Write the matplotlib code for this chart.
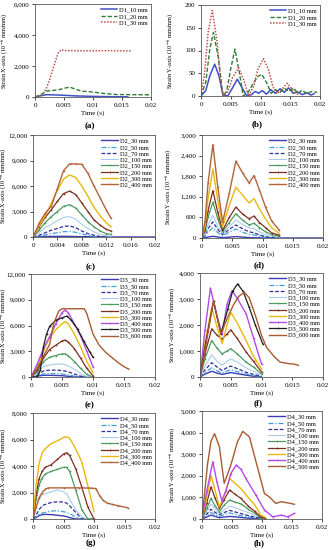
#!/usr/bin/env python3
"""Eight strain-vs-time panels (X and Y axis strain for D1..D4)."""

import matplotlib
matplotlib.use("Agg")
import matplotlib.pyplot as plt
from matplotlib.ticker import FuncFormatter, MultipleLocator

plt.rcParams["font.family"] = ["Liberation Serif", "DejaVu Serif"]
plt.rcParams["mathtext.fontset"] = "stix"

# ---------------- (a) D1 strain X ----------------
A_T10 = [0, 0.001, 0.002, 0.003, 0.005, 0.007, 0.01, 0.013, 0.016]
A_10 = [0, 80, 150, 140, 110, 70, 40, 20, 10]
A_T20 = [0, 0.001, 0.002, 0.003, 0.004, 0.005, 0.006, 0.007, 0.008, 0.01, 0.012, 0.014, 0.02]
A_20 = [0, 150, 380, 420, 460, 560, 640, 500, 380, 320, 220, 160, 140]
A_T30 = [0, 0.0005, 0.001, 0.0015, 0.002, 0.0025, 0.003, 0.0035, 0.004, 0.0045, 0.005, 0.008, 0.012, 0.0165]
A_30 = [0, 0, 80, 250, 600, 1100, 1700, 2300, 2850, 3050, 3000, 2980, 2990, 2980]

# ---------------- (b) D1 strain Y ----------------
B_T10 = [0, 0.0008, 0.0015, 0.0023, 0.003, 0.0037, 0.0045, 0.0053, 0.0061, 0.0069, 0.0077, 0.0085,
         0.0091, 0.0097, 0.0103, 0.011, 0.0117, 0.0125, 0.0133, 0.014, 0.0147, 0.0155, 0.0162, 0.017,
         0.0178, 0.0185, 0.019]
B_10 = [0, 12, 45, 70, 45, 2, 0, 18, 37, 18, 0, 3, 10, 6, 12, 4, 14, 6, 16, 8, 18, 6, 9, 3, 7, 2, 5]
B_T20 = [0, 0.0008, 0.0015, 0.0021, 0.0029, 0.0037, 0.0043, 0.005, 0.0057, 0.0064, 0.0071, 0.0079,
         0.0088, 0.0095, 0.0102, 0.011, 0.0118, 0.0125, 0.0133, 0.014, 0.0148, 0.0155, 0.0163, 0.017,
         0.0178, 0.0186, 0.0195]
B_20 = [0, 30, 105, 140, 85, 0, 10, 60, 103, 55, 0, 8, 28, 42, 48, 30, 6, 14, 8, 17, 10, 18, 6, 13, 5, 10, 8]
B_T30 = [0, 0.0006, 0.0012, 0.0019, 0.0027, 0.0034, 0.0038, 0.0045, 0.0053, 0.0063, 0.0072, 0.008,
         0.0088, 0.0096, 0.0105, 0.0113, 0.0121, 0.0128, 0.0136, 0.0145, 0.0153, 0.016, 0.0165]
B_30 = [0, 50, 140, 188, 120, 20, 0, 10, 40, 62, 35, 0, 20, 60, 82, 60, 20, 5, 15, 28, 15, 5, 3]

# ---------------- (c) D2 strain X ----------------
C_T = [0, 0.001, 0.002, 0.003, 0.004, 0.005, 0.006, 0.007, 0.008, 0.009, 0.01, 0.011, 0.012, 0.0128]
C_T30 = [0, 0.002, 0.005, 0.008, 0.012, 0.02]
C_30 = [0, 60, 80, 40, 10, 0]
C_50 = [0, 100, 250, 400, 500, 620, 650, 550, 350, 200, 80, 0, 0, 0]
C_70 = [0, 200, 500, 800, 1000, 1250, 1300, 1100, 700, 400, 200, 50, 0, 0]
C_100 = [0, 500, 1100, 1500, 1900, 2300, 2400, 2100, 1500, 1000, 600, 300, 150, 100]
C_150 = [0, 800, 1700, 2400, 3000, 3600, 3800, 3400, 2600, 1800, 1200, 700, 400, 300]
C_200 = [0, 1200, 2300, 3200, 4200, 5100, 5400, 5000, 4000, 3000, 2000, 1400, 900, 700]
C_300 = [0, 1300, 2500, 4000, 5500, 6800, 7300, 7000, 6000, 4800, 3500, 2500, 1700, 1200]
C_400 = [0, 1600, 2800, 3600, 5700, 7800, 8600, 8600, 8550, 7500, 6000, 4600, 3200, 2200]

# ---------------- (d) D2 strain Y ----------------
D_T = [0, 0.0005, 0.001, 0.0018, 0.0026, 0.0034, 0.0045, 0.0056, 0.0067, 0.0078, 0.0086, 0.0095,
       0.0105, 0.0115, 0.0128]
D_T30 = [0, 0.0018, 0.0034, 0.0056, 0.008, 0.011, 0.02]
D_30 = [0, 50, 10, 40, 10, 0, 0]
D_50 = [0, 60, 170, 300, 160, 60, 170, 260, 170, 100, 90, 50, 20, 0, 0]
D_70 = [0, 90, 270, 470, 250, 100, 250, 380, 270, 180, 150, 90, 40, 10, 0]
D_100 = [0, 120, 380, 660, 350, 130, 330, 520, 400, 290, 280, 180, 100, 50, 30]
D_150 = [0, 200, 600, 1050, 560, 180, 450, 710, 520, 380, 430, 300, 180, 100, 50]
D_200 = [0, 250, 800, 1380, 750, 220, 600, 900, 700, 560, 640, 450, 300, 150, 80]
D_300 = [0, 350, 1150, 2010, 1100, 330, 950, 1480, 1250, 1020, 1150, 850, 550, 300, 130]
D_400 = [0, 500, 1600, 2720, 1500, 460, 1300, 2240, 1900, 1600, 1820, 1400, 900, 500, 220]

# ---------------- (e) D3 strain X ----------------
E_T = [0, 0.001, 0.002, 0.003, 0.004, 0.005, 0.0055, 0.006, 0.007, 0.008, 0.009, 0.01]
E_30 = [0, 100, 200, 200, 180, 150, 120, 80, 20, 0, 0, 0]
E_50 = [0, 100, 350, 400, 400, 350, 300, 250, 100, 0, 0, 0]
E_70 = [0, 200, 700, 800, 800, 750, 700, 600, 350, 100, 0, 0]
E_100 = [0, 400, 1200, 1400, 1500, 1500, 1450, 1300, 900, 400, 50, 0]
E_150 = [0, 600, 1800, 2300, 2500, 2700, 2700, 2500, 1800, 1000, 300, 0]
E_200 = [0, 800, 2200, 3200, 3700, 4200, 4300, 4100, 3300, 2200, 1000, 150]
E_300 = [0, 1200, 3000, 4600, 5500, 6200, 6450, 6200, 5000, 3500, 1800, 500]
E_400 = [0, 1500, 3300, 4700, 6200, 7500, 7800, 7500, 6200, 4800, 3000, 1200]
E_T500 = [0, 0.001, 0.0015, 0.002, 0.0025, 0.003, 0.004, 0.005, 0.0058, 0.0065, 0.0075, 0.0085, 0.0095, 0.01]
E_500 = [0, 0, 800, 3500, 5000, 5900, 6600, 6900, 7100, 6600, 5600, 4200, 2900, 2300]
E_T600 = [0, 0.001, 0.002, 0.003, 0.0037, 0.0045, 0.005, 0.0086, 0.009, 0.0095, 0.01, 0.011, 0.012,
          0.013, 0.014, 0.015, 0.0158]
E_600 = [0, 1000, 2400, 3800, 6300, 7700, 7950, 7950, 7400, 6200, 5000, 3700, 2900, 2300, 1700, 1200, 900]

# ---------------- (f) D3 strain Y ----------------
F_T = [0, 0.0008, 0.0019, 0.0028, 0.0036, 0.0044, 0.005, 0.006, 0.0075, 0.0087, 0.01]
F_30 = [0, 110, 220, 150, 100, 140, 170, 130, 70, 30, 0]
F_50 = [0, 170, 350, 240, 150, 230, 280, 210, 110, 60, 10]
F_70 = [0, 270, 550, 380, 250, 360, 420, 330, 180, 100, 30]
F_100 = [0, 420, 850, 600, 450, 600, 700, 580, 350, 220, 70]
F_150 = [0, 700, 1400, 1100, 890, 1000, 1090, 900, 570, 380, 120]
F_200 = [0, 900, 1850, 1600, 1470, 1650, 1810, 1500, 960, 600, 200]
F_300 = [0, 1300, 2680, 1900, 1280, 2000, 2490, 2100, 1400, 800, 300]
F_T400 = [0, 0.0008, 0.0017, 0.0028, 0.0036, 0.0044, 0.0052, 0.006, 0.0075, 0.0087, 0.01]
F_400 = [0, 1800, 3420, 2300, 1660, 2800, 3320, 3050, 2430, 1500, 500]
F_T500 = [0, 0.001, 0.0022, 0.0034, 0.0045, 0.0053, 0.0061, 0.007, 0.008, 0.009, 0.0102]
F_500 = [0, 1400, 2910, 1660, 2600, 3300, 3580, 3300, 2680, 2000, 1280]
F_T600 = [0, 0.001, 0.0022, 0.0034, 0.0045, 0.0055, 0.0063, 0.0072, 0.008, 0.0091, 0.01, 0.0108,
          0.012, 0.013, 0.0145, 0.0152, 0.016]
F_600 = [0, 1300, 2940, 1650, 2300, 2800, 3100, 3260, 3050, 2300, 1600, 1150, 800, 575, 510, 500, 450]

# ---------------- (g) D4 strain X ----------------
G_T = [0, 0.0005, 0.001, 0.0015, 0.002, 0.003, 0.004, 0.005, 0.0055, 0.006, 0.007, 0.008, 0.009, 0.01]
G_30 = [0, 100, 250, 330, 350, 330, 280, 230, 180, 100, 0, 0, 0, 0]
G_50 = [0, 150, 350, 450, 500, 600, 620, 550, 500, 400, 150, 0, 0, 0]
G_70 = [0, 300, 700, 1000, 1100, 1250, 1300, 1280, 1200, 1000, 500, 0, 0, 0]
G_100 = [0, 800, 1500, 1800, 1900, 2050, 2200, 2050, 1900, 1500, 700, 150, 0, 0]
G_150 = [0, 1500, 2550, 3100, 3400, 3600, 3750, 3900, 3900, 3600, 2200, 700, 0, 0]
G_200 = [0, 1800, 3050, 3600, 3900, 4100, 4500, 4900, 5000, 4800, 3800, 2400, 900, 0]
G_300 = [0, 2500, 4200, 5000, 5300, 5700, 5900, 6150, 6200, 6100, 5300, 4300, 2500, 550]
G_T400 = [0, 0.0005, 0.001, 0.0015, 0.002, 0.0025, 0.005, 0.0075, 0.0095, 0.0103, 0.011, 0.0115,
          0.0122, 0.013, 0.014, 0.0155]
G_400 = [0, 900, 1600, 2000, 2250, 2350, 2350, 2350, 2330, 2300, 1700, 1400, 1200, 1100, 1000, 850]

# ---------------- (h) D4 strain Y ----------------
H_T = [0, 0.0008, 0.0015, 0.0022, 0.0029, 0.0037, 0.0046, 0.0055, 0.0065, 0.0077, 0.0088, 0.0098, 0.0105]
H_30 = [0, 90, 180, 120, 60, 90, 120, 100, 70, 40, 20, 0, 0]
H_50 = [0, 150, 300, 200, 120, 200, 280, 220, 150, 100, 50, 10, 0]
H_70 = [0, 230, 450, 300, 200, 300, 400, 330, 250, 160, 90, 40, 20]
H_100 = [0, 350, 700, 450, 250, 420, 600, 520, 420, 300, 180, 100, 60]
H_150 = [0, 500, 950, 600, 340, 650, 880, 780, 700, 450, 270, 50, 0]
H_200 = [0, 750, 1490, 950, 490, 900, 1340, 1150, 950, 600, 350, 100, 50]
H_300 = [0, 1000, 2030, 1300, 570, 1100, 1880, 1650, 1400, 1000, 650, 180, 80]
H_T400 = [0, 0.0008, 0.0018, 0.0025, 0.0033, 0.004, 0.0048, 0.0057, 0.0065, 0.0073, 0.009, 0.0104,
          0.0118, 0.0132, 0.0143, 0.0154]
H_400 = [0, 1300, 2650, 1700, 850, 1300, 2100, 2500, 2300, 1880, 1100, 420, 100, 180, 100, 260]
H_T500 = [0, 0.0009, 0.0015, 0.0021, 0.0029, 0.0037, 0.0048, 0.0059, 0.0068, 0.0079, 0.0093, 0.0104,
          0.0112, 0.0123, 0.0132, 0.0148, 0.0154]
H_500 = [0, 2490, 3600, 3950, 3340, 1650, 2490, 3570, 4060, 3800, 2340, 1180, 1030, 720, 800, 720, 680]

STYLE = {
    "D1_10": dict(color="#4050c8", ls="-", lw=1.1),
    "D1_20": dict(color="#2e7d32", ls=(0, (3, 1.5)), lw=1.0),
    "D1_30": dict(color="#c0504d", ls=(0, (1, 1)), lw=1.1),
    "30": dict(color="#3c3cb4", ls="-", lw=1.0),
    "50": dict(color="#3f9fdc", ls=(0, (4, 1.5, 1, 1.5)), lw=0.9),
    "70": dict(color="#2f2f99", ls=(0, (3, 1.5)), lw=0.9),
    "100": dict(color="#a8cbeb", ls="-", lw=0.8),
    "150": dict(color="#4f9a60", ls="-", lw=0.9, marker="+", ms=2, mew=0.5),
    "200": dict(color="#7d2f1f", ls="-", lw=0.9, marker="+", ms=2, mew=0.5),
    "300": dict(color="#e8b90c", ls="-", lw=1.0),
    "400": dict(color="#b2643c", ls="-", lw=1.0, marker="+", ms=2, mew=0.5),
    "400v": dict(color="#b44be6", ls="-", lw=1.0, marker="+", ms=2, mew=0.5),
    "500": dict(color="#1e1e1e", ls="-", lw=0.9, marker="+", ms=2, mew=0.5),
    "500b": dict(color="#a85a30", ls="-", lw=1.0),
    "600": dict(color="#a85a30", ls="-", lw=1.0),
}

W, H = 332, 550
fig = plt.figure(figsize=(W / 100, H / 100), dpi=100)


def make_axes(left, top, right, bottom):
    return fig.add_axes([left / W, 1 - bottom / H, (right - left) / W, (bottom - top) / H])


def style_axes(ax, ymax, ystep, xstep, axis_name, ylab_px, tag, tag_y):
    ax.set_xlim(0, 0.02)
    ax.set_ylim(0, ymax)
    ax.xaxis.set_major_locator(MultipleLocator(xstep))
    ax.yaxis.set_major_locator(MultipleLocator(ystep))
    ax.xaxis.set_major_formatter(FuncFormatter(lambda v, p: f"{v:g}"))
    ax.yaxis.set_major_formatter(FuncFormatter(lambda v, p: f"{v:,.0f}"))
    ax.tick_params(labelsize=5, length=2, width=0.5, pad=2, direction="out")
    for sp in ax.spines.values():
        sp.set_color("#5a5a5a")
        sp.set_linewidth(0.6)
    ax.set_xlabel("Time (s)", fontsize=5, labelpad=2)
    ax.set_ylabel(f"Strain {axis_name}-axis (10$^{{-6}}$ mm/mm)", fontsize=4.6)
    bb = ax.get_position()
    # label anchor is its right edge; ylab_px is the wanted centre
    ax.yaxis.set_label_coords(((ylab_px + 3.5) / W - bb.x0) / bb.width, 0.5)
    ax.legend(loc="upper right", frameon=False, fontsize=4.6, handlelength=2.6,
              handletextpad=0.3, labelspacing=0.12, borderaxespad=0.3, borderpad=0.2)
    fig.text(bb.x0 + bb.width / 2 - 3 / W, 1 - tag_y / H, tag, ha="center", va="center",
             fontsize=6.5, fontweight="bold")


def draw(ax, prefix, series):
    for key, t, y in series:
        size = key.rstrip("vb")
        ax.plot(t, y, label=f"{prefix}_{size} mm", **STYLE[key])


# (a)
ax = make_axes(35, 4, 151, 97)
for key, t, y in [("D1_10", A_T10, A_10), ("D1_20", A_T20, A_20), ("D1_30", A_T30, A_30)]:
    ax.plot(t, y, label=f"{key} mm", **STYLE[key])
style_axes(ax, 6000, 2000, 0.005, "X", 7, "(a)", 126)

# (b)
ax = make_axes(201, 5, 320, 96)
for key, t, y in [("D1_10", B_T10, B_10), ("D1_20", B_T20, B_20), ("D1_30", B_T30, B_30)]:
    ax.plot(t, y, label=f"{key} mm", **STYLE[key])
style_axes(ax, 200, 50, 0.005, "Y", 172, "(b)", 124)

# (c)
ax = make_axes(33, 135, 155, 237)
draw(ax, "D2", [("30", C_T30, C_30), ("50", C_T, C_50), ("70", C_T, C_70), ("100", C_T, C_100),
                ("150", C_T, C_150), ("200", C_T, C_200), ("300", C_T, C_300), ("400", C_T, C_400)])
style_axes(ax, 12000, 3000, 0.004, "X", 6, "(c)", 267)

# (d)
ax = make_axes(202, 135, 323, 238)
draw(ax, "D2", [("30", D_T30, D_30), ("50", D_T, D_50), ("70", D_T, D_70), ("100", D_T, D_100),
                ("150", D_T, D_150), ("200", D_T, D_200), ("300", D_T, D_300), ("400", D_T, D_400)])
style_axes(ax, 3000, 600, 0.005, "Y", 171, "(d)", 265)

# (e)
ax = make_axes(31, 274, 155, 377)
draw(ax, "D3", [("30", E_T, E_30), ("50", E_T, E_50), ("70", E_T, E_70), ("100", E_T, E_100),
                ("150", E_T, E_150), ("200", E_T, E_200), ("300", E_T, E_300), ("400v", E_T, E_400),
                ("500", E_T500, E_500), ("600", E_T600, E_600)])
style_axes(ax, 12000, 3000, 0.005, "X", 6, "(e)", 405)

# (f)
ax = make_axes(200, 273, 323, 377)
draw(ax, "D3", [("30", F_T, F_30), ("50", F_T, F_50), ("70", F_T, F_70), ("100", F_T, F_100),
                ("150", F_T, F_150), ("200", F_T, F_200), ("300", F_T, F_300), ("400v", F_T400, F_400),
                ("500", F_T500, F_500), ("600", F_T600, F_600)])
style_axes(ax, 4000, 1000, 0.005, "Y", 175, "(f)", 403)

# (g)
ax = make_axes(33, 413, 155, 519)
draw(ax, "D4", [("30", G_T, G_30), ("50", G_T, G_50), ("70", G_T, G_70), ("100", G_T, G_100),
                ("150", G_T, G_150), ("200", G_T, G_200), ("300", G_T, G_300), ("400", G_T400, G_400)])
style_axes(ax, 8000, 2000, 0.005, "X", 6, "(g)", 543)

# (h)
ax = make_axes(202, 411, 322, 519)
draw(ax, "D4", [("30", H_T, H_30), ("50", H_T, H_50), ("70", H_T, H_70), ("100", H_T, H_100),
                ("150", H_T, H_150), ("200", H_T, H_200), ("300", H_T, H_300), ("400v", H_T400, H_400),
                ("500b", H_T500, H_500)])
style_axes(ax, 5000, 1000, 0.005, "Y", 174, "(h)", 543)

fig.savefig("out.png", dpi=100)
